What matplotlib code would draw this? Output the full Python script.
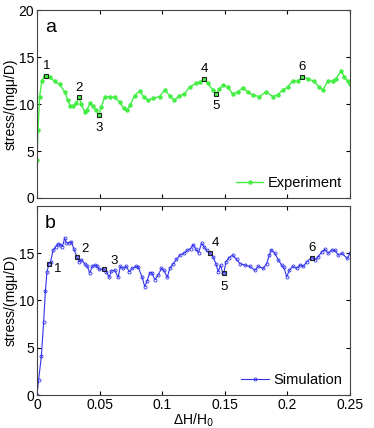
import matplotlib
matplotlib.use("Agg")
import matplotlib.pyplot as plt
import numpy as np

plt.rcParams['font.family'] = ['Liberation Sans', 'DejaVu Sans']

# experiment (panel a)
exp_x = [0.0, 0.0008, 0.0021, 0.0040, 0.0061, 0.0074, 0.0101, 0.0141, 0.0181, 0.0221,
         0.0247, 0.0266, 0.0287, 0.0309, 0.0335, 0.0354, 0.0380, 0.0399, 0.0426, 0.0447,
         0.0468, 0.0495, 0.0513, 0.0540, 0.0580, 0.0620, 0.0660, 0.0691, 0.0718, 0.0745,
         0.0779, 0.0819, 0.0851, 0.0886, 0.0926, 0.0979, 0.1019, 0.1059, 0.1098, 0.1138,
         0.1178, 0.1218, 0.1271, 0.1298, 0.1335, 0.1364, 0.1404, 0.1431, 0.1457, 0.1489,
         0.1524, 0.1564, 0.1604, 0.1644, 0.1684, 0.1723, 0.1777, 0.1830, 0.1883, 0.1923,
         0.1963, 0.2003, 0.2043, 0.2082, 0.2117, 0.2162, 0.2215, 0.2255, 0.2282, 0.2322,
         0.2362, 0.2388, 0.2428, 0.2455, 0.2481, 0.2500]
exp_y = [4.0, 7.2, 10.8, 12.5, 13.0, 13.0, 12.9, 12.4, 12.1, 11.3,
         10.4, 9.8, 9.8, 10.1, 10.7, 10.0, 9.2, 9.4, 10.1, 9.8,
         9.4, 8.8, 9.7, 10.7, 10.8, 10.7, 10.2, 9.6, 9.35, 9.9,
         10.9, 11.4, 10.8, 10.4, 10.6, 10.8, 11.5, 10.9, 10.4, 10.9,
         11.1, 11.8, 12.2, 12.3, 12.7, 12.2, 11.5, 11.1, 11.65, 12.0,
         11.8, 11.05, 11.3, 11.75, 11.3, 10.95, 10.8, 11.3, 10.8, 11.0,
         11.5, 11.8, 12.5, 12.4, 12.9, 12.7, 12.4, 11.8, 11.5, 12.4,
         12.5, 12.7, 13.5, 12.9, 12.4, 12.1]

# simulation (panel b)
sim_x = [0.0, 0.0013, 0.0035, 0.0053, 0.0067, 0.0080, 0.0096, 0.0109, 0.0128, 0.0149,
         0.0168, 0.0187, 0.0203, 0.0221, 0.0235, 0.0253, 0.0275, 0.0293, 0.0320, 0.0336,
         0.0355, 0.0381, 0.0403, 0.0421, 0.0443, 0.0461, 0.0480, 0.0496, 0.0536, 0.0554,
         0.0576, 0.0594, 0.0621, 0.0648, 0.0666, 0.0688, 0.0714, 0.0736, 0.0762, 0.0789,
         0.0808, 0.0840, 0.0861, 0.0880, 0.0901, 0.0917, 0.0941, 0.0968, 0.0994, 0.1013,
         0.1040, 0.1061, 0.1088, 0.1114, 0.1141, 0.1173, 0.1200, 0.1226, 0.1247, 0.1266,
         0.1290, 0.1314, 0.1333, 0.1354, 0.1381, 0.1407, 0.1429, 0.1447, 0.1466, 0.1482,
         0.1493, 0.1509, 0.1535, 0.1562, 0.1594, 0.1621, 0.1660, 0.1700, 0.1740, 0.1767,
         0.1807, 0.1834, 0.1855, 0.1871, 0.1900, 0.1927, 0.1954, 0.1972, 0.1994, 0.2015,
         0.2042, 0.2074, 0.2100, 0.2127, 0.2154, 0.2193, 0.2220, 0.2247, 0.2274, 0.2300,
         0.2327, 0.2354, 0.2380, 0.2407, 0.2434, 0.2479, 0.2500]
sim_y = [0.0, 1.6, 4.1, 7.7, 11.0, 13.05, 13.9, 14.1, 15.3, 15.7,
         16.0, 15.9, 15.7, 16.6, 16.1, 16.1, 16.2, 15.5, 14.6, 14.1,
         14.3, 13.9, 13.6, 12.9, 13.65, 13.75, 13.65, 13.3, 13.3, 13.05,
         12.45, 13.15, 13.2, 12.45, 13.6, 13.4, 13.6, 13.05, 13.4, 13.6,
         13.55, 12.45, 11.45, 12.1, 12.95, 12.95, 12.2, 12.7, 13.4, 13.2,
         12.45, 13.4, 13.9, 14.35, 14.8, 15.0, 15.3, 15.5, 15.9, 15.5,
         15.05, 16.05, 15.7, 15.3, 15.05, 14.6, 13.9, 13.05, 13.75, 12.95,
         12.95, 14.1, 14.55, 14.8, 14.35, 13.9, 13.75, 13.6, 13.2, 13.6,
         13.4, 13.9, 14.8, 15.35, 14.98, 14.3, 13.75, 13.5, 12.5, 13.2,
         13.6, 13.4, 13.75, 13.6, 14.1, 14.55, 14.3, 14.65, 15.15, 15.4,
         15.0, 15.35, 15.3, 14.8, 15.0, 14.45, 15.0]

# labelled points 1..6
exp_mark_x = [0.0074, 0.0335, 0.0495, 0.1335, 0.1431, 0.2117]
exp_mark_y = [13.0, 10.7, 8.8, 12.7, 11.1, 12.9]
sim_mark_x = [0.0096, 0.0320, 0.0536, 0.1381, 0.1493, 0.2193]
sim_mark_y = [13.9, 14.6, 13.3, 15.05, 12.95, 14.55]
point_labels = ['1', '2', '3', '4', '5', '6']

exp_off = [(0, 7), (0, 7), (0, -9), (0, 7), (0, -9), (0, 7)]
sim_off = [(6, -4), (6, 6), (7, 6), (4, 7), (0, -10), (0, 7)]

fig = plt.figure(figsize=(3.74, 4.28), dpi=100)
ax1 = fig.add_axes([0.0989, 0.5374, 0.837, 0.439])
ax2 = fig.add_axes([0.0989, 0.0771, 0.837, 0.4416])

ax1.plot(exp_x, exp_y, '-o', color='#44ee44', lw=1.0, ms=2.2,
         mfc='#44ee44', mec='#44ee44', label='Experiment')
ax2.plot(sim_x, sim_y, '-o', color='#3333ee', lw=0.8, ms=2.2,
         mfc='none', mec='#3333ee', mew=0.6, label='Simulation')

for ax, mx, my, offs in [(ax1, exp_mark_x, exp_mark_y, exp_off),
                         (ax2, sim_mark_x, sim_mark_y, sim_off)]:
    ax.plot(mx, my, 's', ms=3.5, mfc='none', mec='#222222', mew=0.8)
    for lab, x, y, off in zip(point_labels, mx, my, offs):
        ax.annotate(lab, (x, y), xytext=off, textcoords='offset points',
                    ha='center', va='center', fontsize=9.5)

for ax, letter in [(ax1, 'a'), (ax2, 'b')]:
    ax.set_xlim(0, 0.25)
    ax.set_ylim(0, 20)
    ax.set_yticks([0, 5, 10, 15, 20])
    ax.set_xticks([0, 0.05, 0.1, 0.15, 0.2, 0.25])
    ax.tick_params(direction='in', top=True, right=True, labelsize=10, length=3, pad=2)
    ax.set_ylabel('stress/(mg\u03bc/D)', fontsize=10, labelpad=1)
    ax.text(0.025, 0.95, letter, transform=ax.transAxes, fontsize=14, va='top')
    ax.legend(loc='lower right', frameon=False, fontsize=10.5, handlelength=1.9,
              handletextpad=0.3, borderaxespad=0.25, borderpad=0.3)
    for s in ax.spines.values():
        s.set_color('#444444')

ax1.set_xticklabels([])
ax2.set_yticks([0, 5, 10, 15])
ax2.set_xticklabels(['0', '0.05', '0.1', '0.15', '0.2', '0.25'])
ax2.set_xlabel('\u0394H/H$_0$', fontsize=10, labelpad=0)

fig.savefig('out.png', dpi=100)
